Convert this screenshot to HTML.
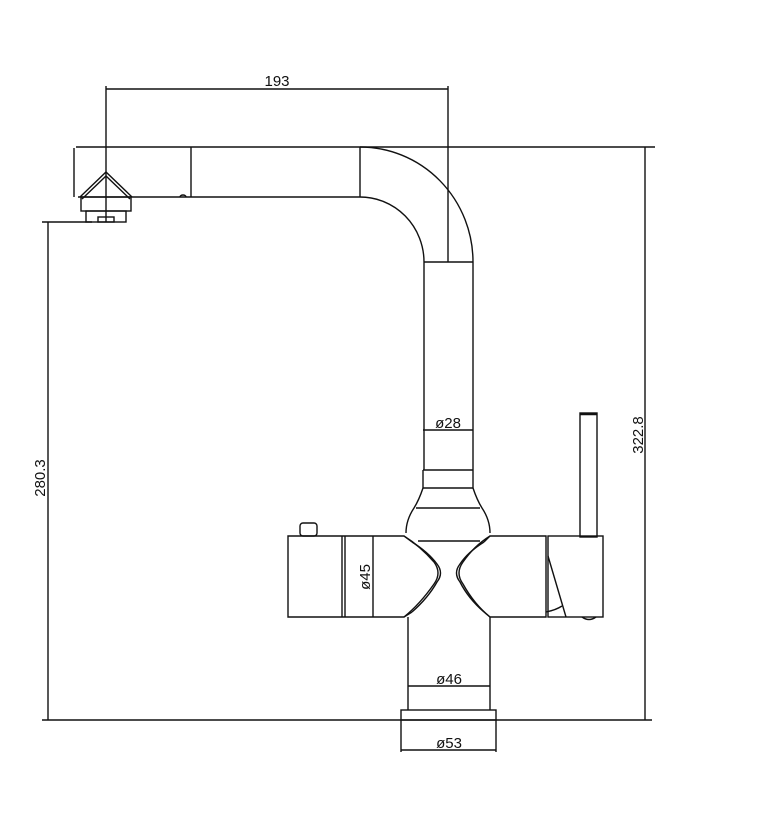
<!DOCTYPE html>
<html><head><meta charset="utf-8"><style>
html,body{margin:0;padding:0;background:#fff;}
svg{display:block}
text{font-family:"Liberation Sans",sans-serif;font-size:15px;fill:#111}
</style></head><body>
<svg width="768" height="839" viewBox="0 0 768 839" xmlns="http://www.w3.org/2000/svg">
<g fill="none" stroke="#111" stroke-width="1.4">
<!-- dimension 193 -->
<line x1="106" y1="89" x2="448" y2="89"/>
<line x1="106" y1="86" x2="106" y2="222"/>
<line x1="448" y1="86" x2="448" y2="262"/>
<!-- right dim 322.8 -->
<line x1="360" y1="147" x2="655" y2="147"/>
<line x1="645" y1="147" x2="645" y2="720"/>
<!-- left dim 280.3 -->
<line x1="42" y1="222" x2="92" y2="222"/>
<line x1="48" y1="222" x2="48" y2="720"/>
<!-- baseline -->
<line x1="42" y1="720" x2="652" y2="720"/>
<!-- spout -->
<path d="M76 147 H360 A113 115 0 0 1 473 262 V470"/>
<path d="M78 197 H360 A64 65 0 0 1 424 262 V470"/>
<line x1="74" y1="148" x2="74" y2="197"/>
<line x1="191" y1="147" x2="191" y2="197"/>
<line x1="360" y1="147" x2="360" y2="197"/>
<line x1="424" y1="262" x2="473" y2="262"/>
<path d="M180 197 a3 2 0 0 1 6 0"/>
<!-- aerator -->
<path d="M80 197 L106 172 L132 197"/>
<path d="M82 199 L106 176 L130 199"/>
<rect x="81" y="197" width="50" height="14"/>
<rect x="86" y="211" width="40" height="11"/>
<rect x="98" y="217" width="16" height="5"/>
<!-- stem -->
<line x1="423" y1="470" x2="473" y2="470"/>
<line x1="423" y1="488" x2="473" y2="488"/>
<line x1="423" y1="470" x2="423" y2="488"/>
<line x1="473" y1="470" x2="473" y2="488"/>
<line x1="423" y1="430" x2="473" y2="430"/>
<path d="M423 488 Q419 500 414 508 Q406 520 406 533"/>
<path d="M473 488 Q477 500 482 508 Q490 520 490 533"/>
<line x1="416" y1="508" x2="480" y2="508"/>
<line x1="418" y1="541" x2="480" y2="541"/>
<!-- body -->
<path d="M288 536 H404 Q420 546 434 562 Q442 573 434 584 Q420 604 404 617 H288 Z"/>
<path d="M412 542 Q428 552 437 564 Q444 573 437 582 Q428 598 412 612"/>
<path d="M404 536 L412 542 M404 617 L412 612"/>
<path d="M546 536 H490 Q474 546 463 562 Q455 573 463 584 Q474 604 490 617 H546 Z"/>
<path d="M484 542 Q468 552 460 564 Q453 573 460 582 Q468 598 484 612"/>
<path d="M490 536 L484 542 M490 617 L484 612"/>
<line x1="342" y1="536" x2="342" y2="617"/>
<line x1="345" y1="536" x2="345" y2="617"/>
<line x1="373" y1="536" x2="373" y2="617"/>
<rect x="300" y="523" width="17" height="13" rx="3"/>
<!-- handle -->
<rect x="548" y="536" width="55" height="81"/>
<path d="M548 556 L566 617"/>
<path d="M546 612 Q556 610 562 606"/>
<rect x="580" y="413" width="17" height="124"/>
<line x1="580" y1="414" x2="597" y2="414" stroke-width="2.5"/>
<path d="M582 617 Q589 622 596 617"/>
<!-- lower stem -->
<line x1="408" y1="617" x2="408" y2="710"/>
<line x1="490" y1="617" x2="490" y2="710"/>
<line x1="408" y1="686" x2="490" y2="686"/>
<rect x="401" y="710" width="95" height="10"/>
<line x1="401" y1="720" x2="401" y2="752"/>
<line x1="496" y1="720" x2="496" y2="752"/>
<line x1="401" y1="750" x2="496" y2="750"/>
</g>
<text x="277" y="86" text-anchor="middle">193</text>
<text x="448" y="428" text-anchor="middle">ø28</text>
<text x="449" y="684" text-anchor="middle">ø46</text>
<text x="449" y="748" text-anchor="middle">ø53</text>
<text transform="translate(370,577) rotate(-90)" text-anchor="middle">ø45</text>
<text transform="translate(643,435) rotate(-90)" text-anchor="middle">322.8</text>
<text transform="translate(45,478) rotate(-90)" text-anchor="middle">280.3</text>
</svg>
</body></html>
